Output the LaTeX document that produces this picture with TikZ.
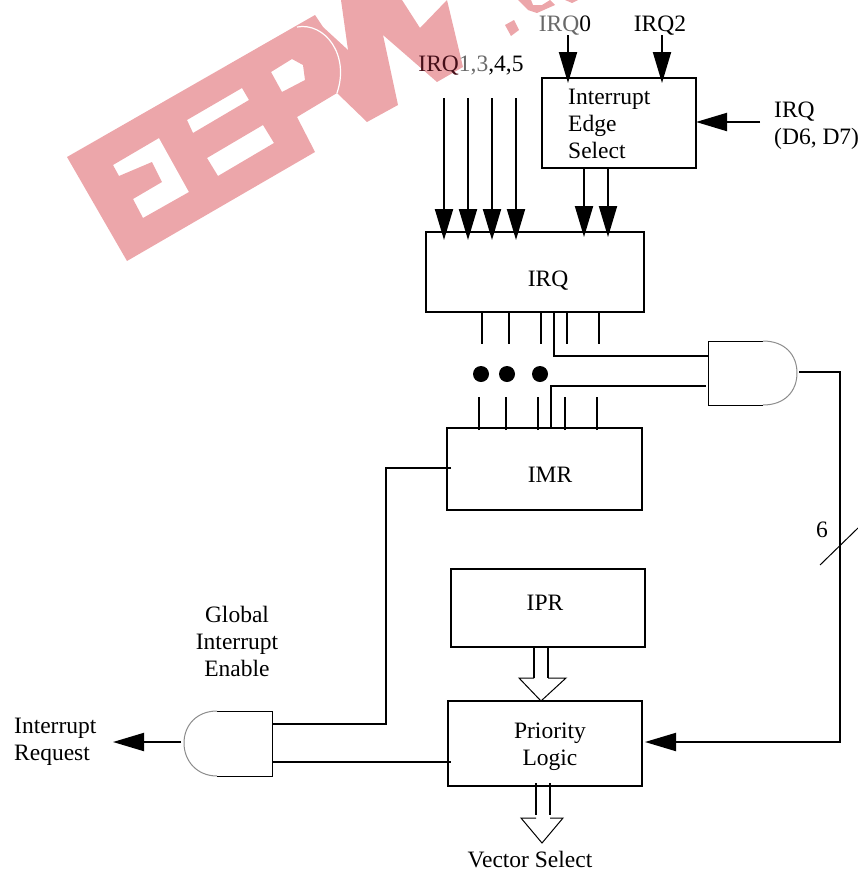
\documentclass[tikz,border=0pt]{standalone}
\usepackage{fontspec}
\setmainfont{Liberation Serif}
\usetikzlibrary{arrows.meta}
\definecolor{wmpink}{RGB}{236, 166, 170}
\definecolor{wmdark}{RGB}{70, 15, 25}
\definecolor{wmgrey}{RGB}{105, 105, 105}
\definecolor{gatearc}{RGB}{140, 140, 140}
\tikzset{
  regbox/.style={draw, line width=2pt, inner sep=0pt, outer sep=0pt},
  wire/.style={line width=2pt},
  thinline/.style={line width=1pt},
  sigarrow/.style={line width=2pt, -{Triangle[length=31pt, width=18pt]}},
  dotmark/.style={circle, fill=black, inner sep=0pt, minimum size=16pt},
  lbl/.style={inner sep=0pt, anchor=base},
  multi/.style={inner sep=0pt, align=left, anchor=west}
}

\begin{document}
\begin{tikzpicture}[x=1pt, y=-1pt, font=\fontsize{23.5}{27}\selectfont]
  \useasboundingbox (0, 0) rectangle (858, 873);

  % watermark
  \fill[wmpink, even odd rule] (67, 157) -- (315, 15) -- (323, 27) -- (348, 50) -- (352, 70)
    -- (337, 93) -- (297, 117) -- (315, 152) -- (127, 261) -- cycle
    (113, 165) -- (159, 138) -- (189, 192) -- (143, 218) -- (133, 199) -- (162, 182) -- (152, 162) -- (119, 176) -- cycle
    (187, 120) -- (242, 88) -- (249, 100) -- (193, 133) -- cycle
    (207, 158) -- (263, 125) -- (274, 143) -- (218, 176) -- cycle
    (271, 72) -- (292, 59) -- (303, 65) -- (305, 80) -- (282, 92) -- cycle;
  \fill[wmpink] (341, 0) -- (402, 0) -- (420, 28) -- (447, 0) -- (463, 67) -- (437, 82) -- (383, 35)
    -- (398, 105) -- (367, 122) -- (337, 93) -- (348, 50) -- cycle;
  \draw[white, line width=1.2pt] (297, 27) .. controls (325, 22) and (350, 55) .. (337, 93);
  \fill[wmpink] (505, 25) -- (514, 20) -- (519, 30) -- (511, 36) -- cycle;
  \fill[wmpink] (518, 0) -- (528, 10) -- (537, 13) -- (555, 5) -- (550, 0) -- (542, 5) -- (533, 5) -- (531, 0) -- cycle;
  \fill[wmpink] (565, 0) -- (572, 3) -- (578, 0) -- cycle;

  % registers
  \node[regbox, minimum width=154pt, minimum height=90pt] (edgesel) at (619, 123) {};
  \node[regbox, minimum width=218pt, minimum height=80pt] (irqreg) at (535, 272) {};
  \node[regbox, minimum width=195pt, minimum height=82pt] (imrreg) at (544.5, 469) {};
  \node[regbox, minimum width=194pt, minimum height=78pt] (iprreg) at (548, 608) {};
  \node[regbox, minimum width=194pt, minimum height=85pt] (prilogic) at (545, 743.5) {};

  \node[multi] (edgetext) at (568, 124) {Interrupt\\Edge\\Select};
  \node[lbl] (irqtext) at (548, 286) {IRQ};
  \node[lbl] (imrtext) at (550, 482) {IMR};
  \node[lbl] (iprtext) at (545, 610) {IPR};
  \node[inner sep=0pt, align=center, anchor=center] (pritext) at (550, 747) {Priority\\Logic};

  % input labels
  \node[lbl] (irqzero) at (565, 31) {\textcolor{wmgrey}{IRQ}0};
  \node[lbl] (irqtwo) at (660, 31) {IRQ2};
  \node[lbl] (irqmany) at (471, 71) {\textcolor{wmdark}{IRQ}\textcolor{wmgrey}{1,3},4,5};
  \node[multi] (irqhigh) at (774, 126) {IRQ\\(D6, D7)};
  \node[inner sep=0pt, align=center, anchor=center] (globalen) at (237, 641) {Global\\Interrupt\\Enable};
  \node[multi] (intreq) at (14, 742) {Interrupt\\Request};
  \node[lbl] (vecsel) at (530, 867) {Vector Select};
  \node[lbl] (buswidth) at (822, 537) {6};

  % free ends
  \coordinate (irqzerotop) at (568, 35);
  \coordinate (irqtwotop) at (662, 35);
  \coordinate (irqhighend) at (760, 122);
  \coordinate (maskin) at (708, 356);
  \coordinate (maskinb) at (706, 386);
  \coordinate (maskout) at (799, 372);
  \coordinate (buscorner) at (840, 372);
  \coordinate (slashlow) at (820, 565);
  \coordinate (slashhigh) at (858, 528);
  \coordinate (enablein) at (273, 724);
  \coordinate (logicin) at (272, 762);
  \coordinate (reqstart) at (181, 742);
  \coordinate (reqtip) at (113, 742);

  % arrows going in
  \foreach \dx in {18, 42, 66, 90}
    \draw[sigarrow, shorten >=-8pt] ([xshift=\dx pt, yshift=134pt]irqreg.north west) -- ([xshift=\dx pt]irqreg.north west);
  \foreach \dx in {42, 66}
    \draw[sigarrow, shorten >=-5pt] ([xshift=\dx pt]edgesel.south west) -- ([xshift=\dx pt + 116pt]irqreg.north west);
  \draw[sigarrow, shorten >=-5pt] (irqzerotop) -- (irqzerotop |- edgesel.north);
  \draw[sigarrow, shorten >=-5pt] (irqtwotop) -- (irqtwotop |- edgesel.north);
  \draw[sigarrow] (irqhighend) -- (irqhighend -| edgesel.east);

  % stubs between the two registers
  \foreach \dx in {56, 83, 115, 141, 173}
    \draw[wire] ([xshift=\dx pt]irqreg.south west) -- ++(0, 32);
  \foreach \dx in {32, 59, 91, 118, 150}
    \draw[wire] ([xshift=\dx pt, yshift=-2pt]imrreg.north west) -- ++(0, -33);
  \node[dotmark] (dota) at (481, 374) {};
  \node[dotmark] (dotb) at (507, 374) {};
  \node[dotmark] (dotc) at (540, 374) {};

  % mask gate
  \draw[thinline] (763, 341) -- (708, 341) -- (708, 405) -- (763, 405);
  \draw[thinline, color=gatearc] (763, 341) .. controls (785, 341) and (797, 355) .. (797, 373)
    .. controls (797, 391) and (785, 405) .. (763, 405);
  \draw[wire] ([xshift=128pt]irqreg.south west) |- (maskin);
  \draw[wire] ([xshift=104pt]imrreg.north west) |- (maskinb);
  \draw[sigarrow, shorten >=3pt] (maskout) -- (buscorner) |- (prilogic.east |- 0, 742);
  \draw[thinline] (slashlow) -- (slashhigh);

  % request gate
  \draw[thinline] (217, 711) -- (272, 711) -- (272, 776) -- (217, 776);
  \draw[thinline, color=gatearc] (217, 711) .. controls (197, 711) and (184, 725) .. (184, 743)
    .. controls (184, 761) and (197, 776) .. (217, 776);
  \draw[wire] ([xshift=4pt, yshift=1pt]imrreg.west) -- ++(-65, 0) |- (enablein);
  \draw[wire] (logicin) -- ([xshift=3pt]prilogic.west |- logicin);
  \draw[sigarrow] (reqstart) -- (reqtip);

  % hollow arrows
  \draw[wire] ([xshift=83pt]iprreg.south west) -- ++(0, 31);
  \draw[wire] ([xshift=97pt]iprreg.south west) -- ++(0, 31);
  \draw[thinline, fill=white] ([xshift=83pt, yshift=-31pt]iprreg.south west) -- ++(-15, 0) -- ([xshift=-4pt]prilogic.north)
    -- ([xshift=115pt, yshift=-31pt]iprreg.south west) -- ++(-18, 0);
  \draw[wire] ([xshift=88pt, yshift=3pt]prilogic.south west) -- ++(0, 32);
  \draw[wire] ([xshift=102pt, yshift=3pt]prilogic.south west) -- ++(0, 32);
  \draw[thinline, fill=white] ([xshift=88pt, yshift=-32pt]prilogic.south west) -- ++(-15, 0) -- ++(21, 25)
    -- ++(21, -25) -- ++(-13, 0);
\end{tikzpicture}
\end{document}
